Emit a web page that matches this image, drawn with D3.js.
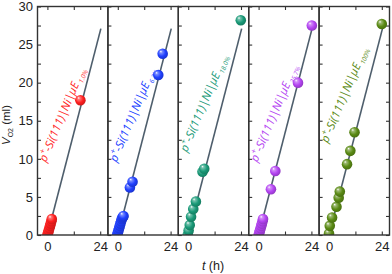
<!DOCTYPE html>
<html>
<head>
<meta charset="utf-8">
<script src="https://cdn.jsdelivr.net/npm/d3@7"></script>
<style>
body { margin: 0; background: #fff; }
svg { display: block; }
.tick text { font-family: "Liberation Sans", Arial, sans-serif; font-size: 13px; fill: #222; }
</style>
</head>
<body>
<div id="chart"></div>
<script>
// loading (percent) for each panel
var categories = ["1.0%", "6.2%", "18.0%", "35.7%", "100%"];

// time (h) and O2 volume (ml) per panel
var t_1 = [0, 0.3, 0.6, 0.9, 1.2, 1.5, 1.8, 2.0, 15.0];
var v_1 = [0, 0.3, 0.6, 0.9, 1.2, 1.5, 1.8, 2.1, 17.7];
var t_2 = [-0.3, 0, 0.3, 0.6, 0.9, 1.2, 1.5, 1.8, 2.1, 2.4, 2.6, 5.5, 6.7, 18.4, 20.4];
var v_2 = [0, 0.3, 0.6, 0.9, 1.2, 1.5, 1.8, 2.1, 2.3, 2.4, 2.5, 6.25, 7.0, 21.0, 23.8];
var t_3 = [-0.2, 0.2, 0.7, 1.3, 2.3, 3.5, 6.5, 7.3, 23.9];
var v_3 = [0, 0.6, 1.3, 2.4, 3.4, 4.4, 8.3, 8.7, 28.2];
var t_4 = [0, 0.3, 0.6, 0.9, 1.2, 1.5, 1.8, 2.0, 5.6, 7.6, 17.9, 24.2];
var v_4 = [0, 0.3, 0.6, 0.9, 1.2, 1.5, 1.8, 2.1, 6.0, 8.4, 20.0, 27.5];
var t_5 = [0, 0.35, 1.4, 3.4, 4.4, 4.9, 8.2, 9.7, 11.6, 24.0];
var v_5 = [0.2, 1.2, 2.3, 3.7, 4.9, 5.7, 9.3, 11.05, 13.5, 27.7];

// linear fit drawn in every panel
var fit_t = [0, 24.3];
var fit_v = [0, 27.1];

var x_ticks = [0, 12, 24];
var y_ticks = [0, 2.5, 5, 7.5, 10, 12.5, 15, 17.5, 20, 22.5, 25, 27.5, 30];

var series_t = [t_1, t_2, t_3, t_4, t_5];
var series_v = [v_1, v_2, v_3, v_4, v_5];

var colors = ["#ff1f1f", "#2040ff", "#1a9a78", "#b444f2", "#5a8a14"];

var width = 392, height = 274;
var plot_left = 37.5, plot_right = 389.5, plot_top = 6.5, plot_bottom = 235;
var panel_w = (plot_right - plot_left) / 5;

var svg = d3.select("#chart").append("svg")
.attr("width", width)
.attr("height", height);

var defs = svg.append("defs");

colors.forEach(function(c, i) {
	var g = defs.append("radialGradient")
	.attr("id", "ball" + i)
	.attr("cx", "45%").attr("cy", "45%").attr("r", "60%")
	.attr("fx", "32%").attr("fy", "28%");
	g.append("stop").attr("offset", "0%").attr("stop-color", "#ffffff");
	g.append("stop").attr("offset", "20%").attr("stop-color", d3.interpolateRgb(c, "#fff")(0.4));
	g.append("stop").attr("offset", "60%").attr("stop-color", c);
	g.append("stop").attr("offset", "100%").attr("stop-color", d3.color(c).darker(0.7));
});

var y = d3.scaleLinear().domain([0, 30]).range([plot_bottom, plot_top]);

categories.forEach(function(cat, i) {
	var x0 = plot_left + i * panel_w;
	var x = d3.scaleLinear().domain([-4.5, 27.5]).range([x0, x0 + panel_w]);

	defs.append("clipPath").attr("id", "clip" + i)
	.append("rect")
	.attr("x", x0).attr("y", plot_top)
	.attr("width", panel_w).attr("height", plot_bottom - plot_top);

	var g = svg.append("g");

	// y ticks (inward)
	var yAxis = d3.axisLeft(y)
	.tickValues(y_ticks)
	.tickSizeInner(-3.5)
	.tickSizeOuter(0)
	.tickPadding(4.5)
	.tickFormat(function(d) { return (i == 0 && d % 5 == 0) ? d : ""; });
	g.append("g").attr("transform", "translate(" + x0 + ",0)").call(yAxis);

	if (i == 4) {
		g.append("g").attr("transform", "translate(" + (x0 + panel_w) + ",0)")
		.call(d3.axisRight(y).tickValues(y_ticks).tickSizeInner(-3.5).tickSizeOuter(0).tickFormat(""));
	}

	var xAxis = d3.axisBottom(x)
	.tickValues(x_ticks)
	.tickSizeInner(-3.5)
	.tickSizeOuter(0)
	.tickPadding(7)
	.tickFormat(function(d) { return d == 12 ? "" : d; });
	g.append("g").attr("transform", "translate(0," + plot_bottom + ")").call(xAxis);

	g.append("g").attr("transform", "translate(0," + plot_top + ")")
	.call(d3.axisTop(x).tickValues(x_ticks).tickSizeInner(-3.5).tickSizeOuter(0).tickFormat(""));

	g.selectAll(".domain").remove();
	g.selectAll(".tick line").attr("stroke", "#333").attr("stroke-width", 1.1);

	// label, rotated
	var lab = g.append("text")
	.attr("transform", "translate(" + x(-0.6) + "," + y(i == 4 ? 12 : (i == 2 ? 10.8 : 9.5)) + ") rotate(-67)")
	.attr("font-family", "'Open Sans', 'Noto Sans', sans-serif")
	.attr("font-style", "italic")
	.attr("font-size", 11.5)
	.attr("fill", colors[i]);
	lab.append("tspan").text("p");
	lab.append("tspan").attr("font-size", 8).attr("dy", -5).text("+");
	lab.append("tspan").attr("dy", 5).text("-Si(111)|Ni|\u03bcE");
	lab.append("tspan").attr("font-size", 6.5).attr("dy", 3).attr("dx", 1.5).text(cat);

	var line = d3.line()
	.x(function(d) { return x(d[0]); })
	.y(function(d) { return y(d[1]); });

	g.append("path")
	.datum(d3.zip(fit_t, fit_v))
	.attr("d", line)
	.attr("fill", "none")
	.attr("stroke", "#4e5e6c")
	.attr("stroke-width", 1.6);

	g.append("g").attr("clip-path", "url(#clip" + i + ")")
	.selectAll("circle")
	.data(d3.zip(series_t[i], series_v[i]))
	.enter()
	.append("circle")
	.attr("cx", function(d) { return x(d[0]); })
	.attr("cy", function(d) { return y(d[1]); })
	.attr("r", 5.3)
	.attr("fill", "url(#ball" + i + ")");

	// frame
	g.append("rect")
	.attr("x", x0).attr("y", plot_top)
	.attr("width", panel_w).attr("height", plot_bottom - plot_top)
	.attr("fill", "none")
	.attr("stroke", "#333")
	.attr("stroke-width", 1.4);
});

// axis titles
var yt = svg.append("text")
.attr("transform", "translate(10,125) rotate(-90)")
.attr("text-anchor", "middle")
.attr("font-family", "'Liberation Sans', Arial, sans-serif")
.attr("font-size", 11.5)
.attr("fill", "#222");
yt.append("tspan").attr("font-style", "italic").text("V");
yt.append("tspan").attr("font-size", 7).attr("dy", 3).text("O2");
yt.append("tspan").attr("dy", -3).text(" (ml)");

var xt = svg.append("text")
.attr("x", 213).attr("y", 270)
.attr("text-anchor", "middle")
.attr("font-family", "'Liberation Sans', Arial, sans-serif")
.attr("font-size", 12.5)
.attr("fill", "#222");
xt.append("tspan").attr("font-style", "italic").text("t");
xt.append("tspan").text(" (h)");
</script>
</body>
</html>
